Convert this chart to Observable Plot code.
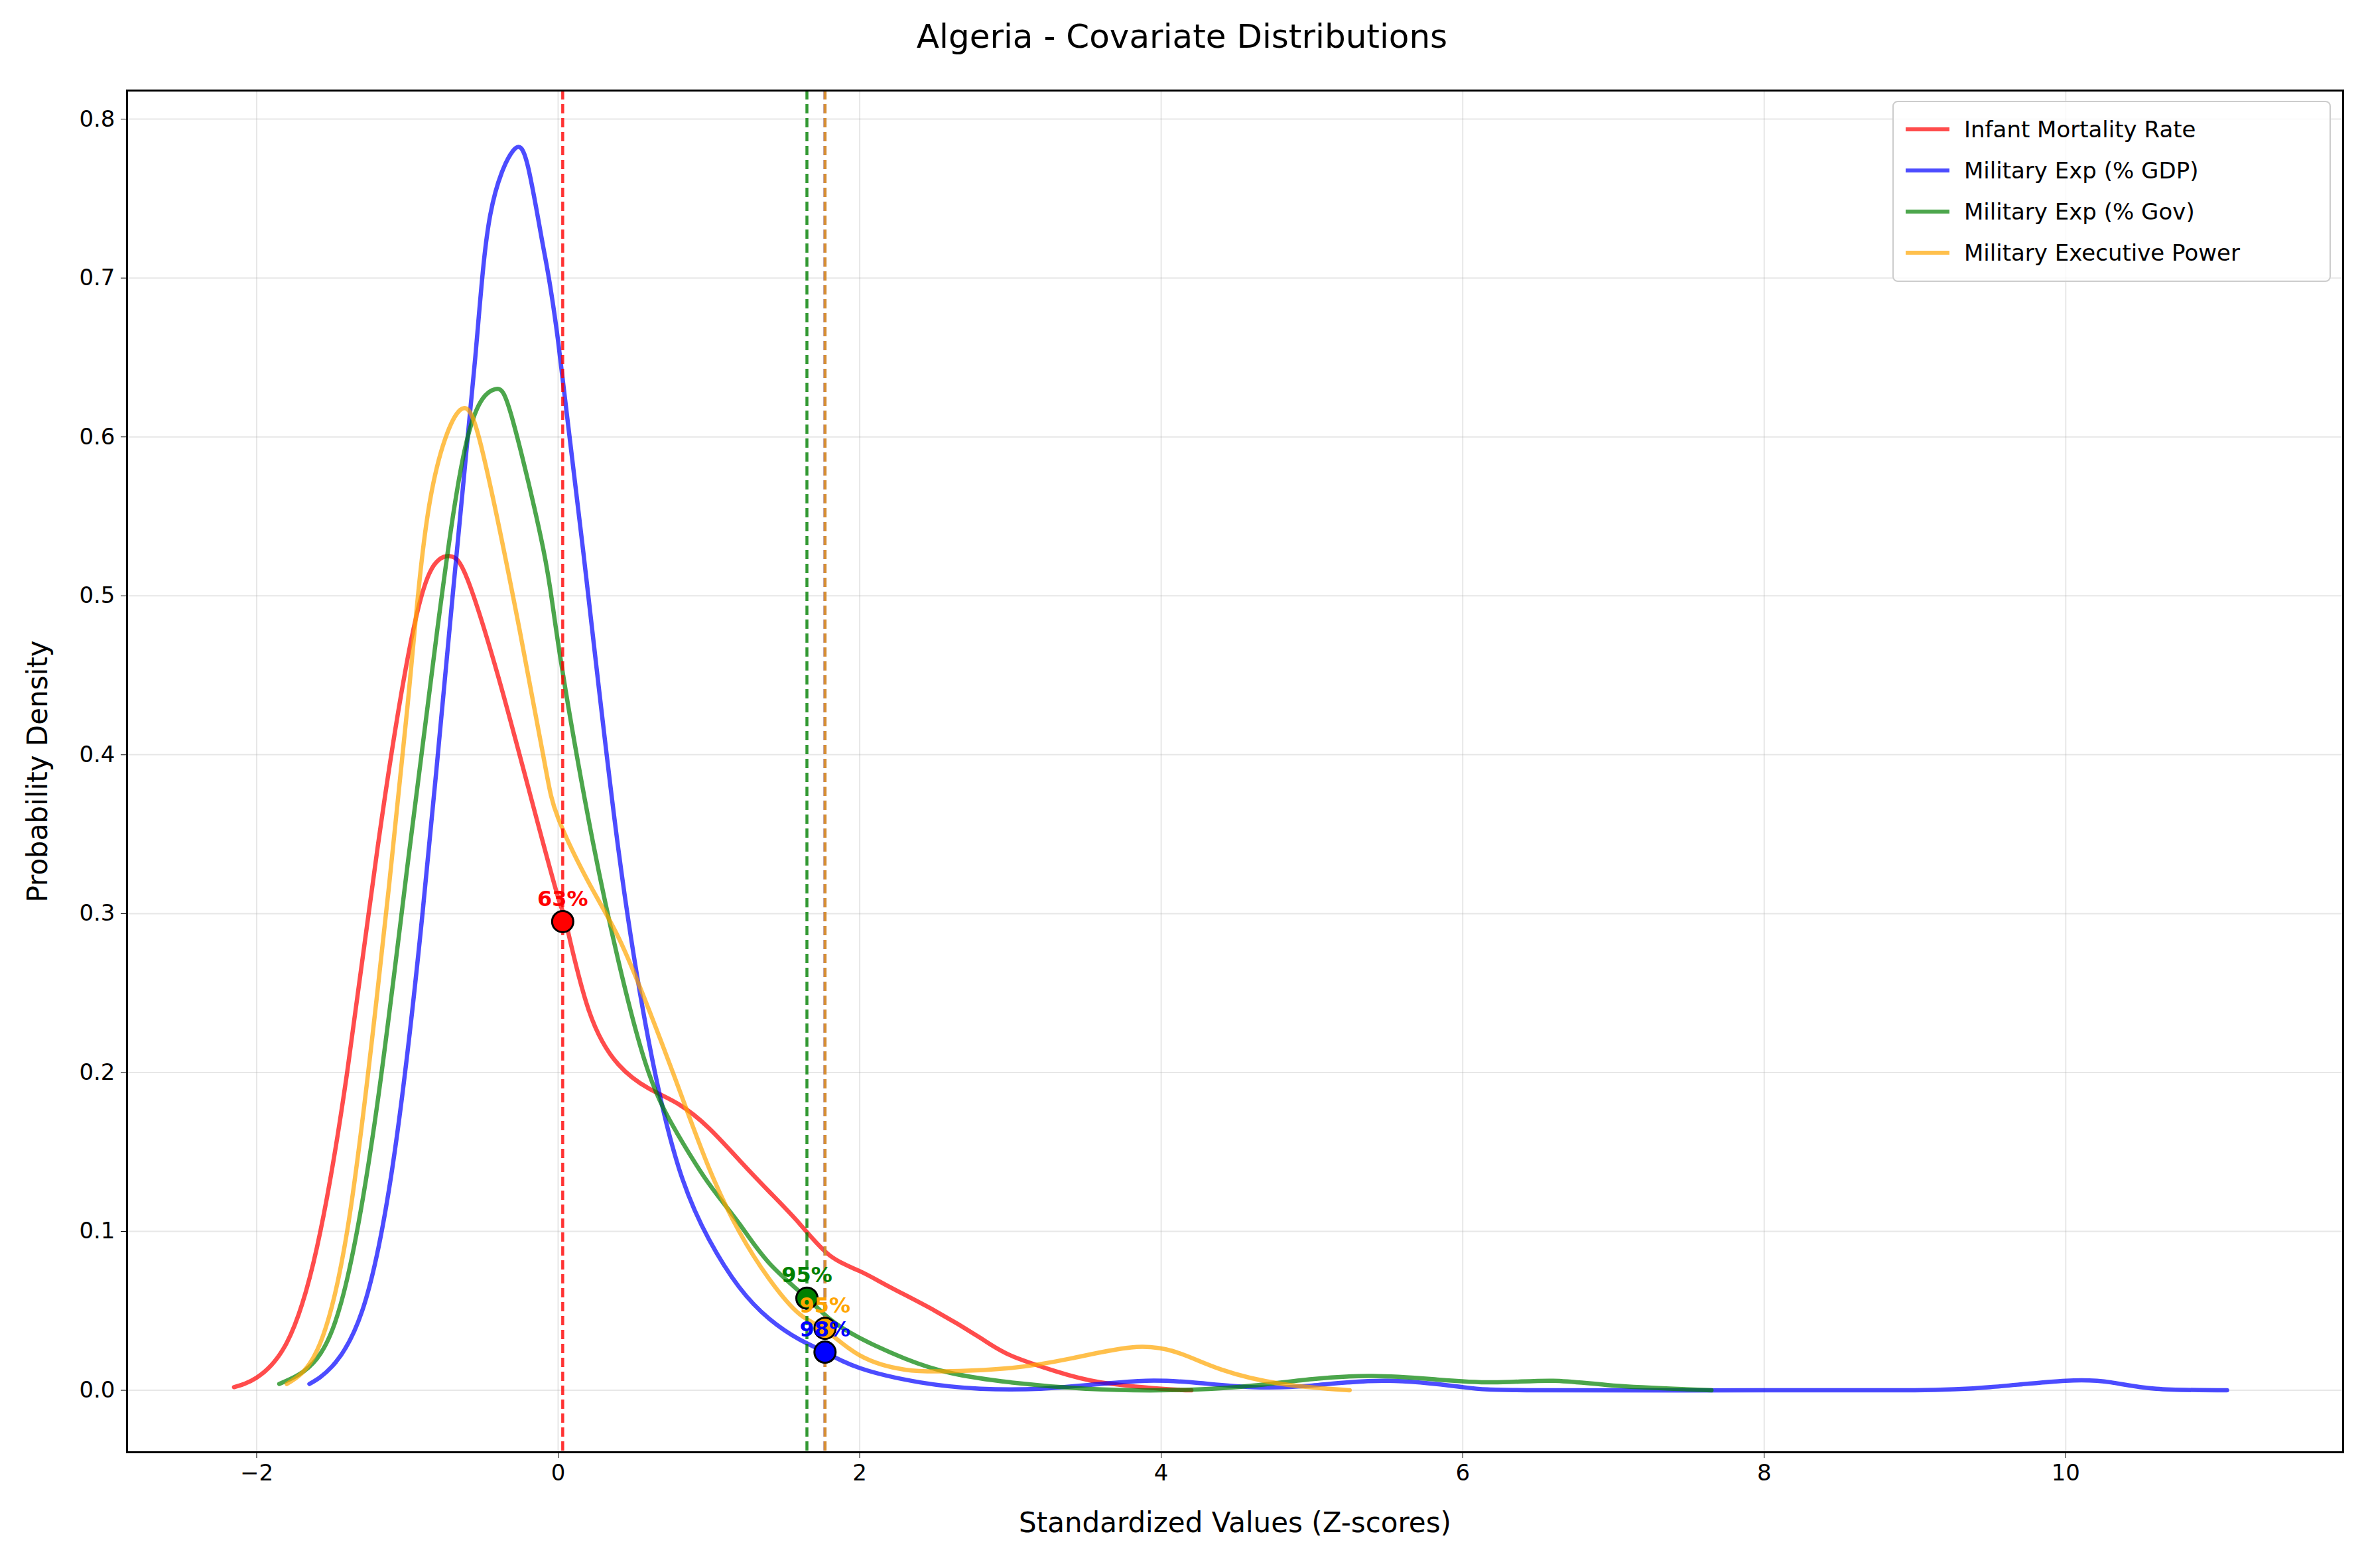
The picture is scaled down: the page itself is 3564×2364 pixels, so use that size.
<!DOCTYPE html>
<html><head><meta charset="utf-8">
<script src="https://cdn.jsdelivr.net/npm/d3@7"></script>
<script src="https://cdn.jsdelivr.net/npm/@observablehq/plot@0.6"></script>
<style>
body{margin:0;background:#fff;font-family:"DejaVu Sans",sans-serif;}
#wrap{position:relative;width:3564px;height:2364px;}
#title{position:absolute;top:26px;left:0;width:3564px;text-align:center;font-size:50px;color:#000;}
#legend{position:absolute;left:2853px;top:152px;width:661px;height:273px;box-sizing:border-box;border:2px solid #ccc;border-radius:8px;background:rgba(255,255,255,0.8);padding:10px 18px;font-size:34px;}
#legend div{display:flex;align-items:center;height:62px;}
#legend span.sw{display:inline-block;width:66px;height:6px;margin-right:22px;opacity:0.7;}
</style></head>
<body><div id="wrap"><div id="title">Algeria - Covariate Distributions</div><div id="legend"></div></div>
<script>
const names = ["Infant Mortality Rate","Military Exp (% GDP)","Military Exp (% Gov)","Military Executive Power"];
const colors = ["red","blue","green","orange"];

const infantX = [-2.15,-2,-1.8,-1.6,-1.4,-1.2,-1.0,-0.85,-0.72,-0.6,-0.4,-0.2,0,0.05,0.2,0.4,0.6,0.8,1.0,1.2,1.4,1.6,1.8,2.0,2.2,2.5,2.8,3.0,3.3,3.6,4.0,4.2];
const infantY = [0.002,0.008,0.03,0.09,0.2,0.34,0.46,0.515,0.525,0.51,0.45,0.38,0.31,0.295,0.24,0.205,0.19,0.18,0.165,0.145,0.125,0.105,0.085,0.075,0.065,0.05,0.033,0.022,0.012,0.005,0.001,0.0];
const gdpX = [-1.65,-1.5,-1.3,-1.1,-0.9,-0.7,-0.55,-0.45,-0.3,-0.2,-0.1,0,0.2,0.4,0.6,0.8,1.0,1.2,1.4,1.6,1.77,2.0,2.4,2.8,3.2,3.6,3.9,4.2,4.6,5.0,5.5,6.0,6.5,8,9,9.5,10.0,10.3,10.6,11.07];
const gdpY = [0.004,0.015,0.05,0.14,0.3,0.5,0.65,0.74,0.78,0.77,0.72,0.66,0.5,0.34,0.22,0.14,0.095,0.065,0.045,0.032,0.024,0.014,0.005,0.001,0.001,0.004,0.006,0.005,0.002,0.003,0.006,0.002,0.0,0,0,0.002,0.006,0.005,0.001,0];
const govX = [-1.85,-1.6,-1.4,-1.2,-1.0,-0.8,-0.6,-0.42,-0.3,-0.1,0,0.2,0.4,0.6,0.8,1.0,1.2,1.4,1.65,1.8,2.0,2.3,2.6,3.0,3.5,4.0,4.5,5.0,5.4,5.8,6.2,6.6,7.0,7.65];
const govY = [0.004,0.02,0.07,0.18,0.33,0.48,0.6,0.63,0.61,0.53,0.47,0.36,0.27,0.2,0.16,0.13,0.105,0.08,0.058,0.045,0.033,0.02,0.011,0.005,0.001,0.0,0.002,0.007,0.009,0.007,0.005,0.006,0.003,0.0];
const execX = [-1.8,-1.6,-1.4,-1.2,-1.0,-0.85,-0.65,-0.5,-0.3,-0.1,0,0.2,0.4,0.6,0.8,1.0,1.2,1.4,1.6,1.77,2.0,2.3,2.6,3.0,3.4,3.8,4.1,4.4,4.8,5.25];
const execY = [0.004,0.025,0.1,0.25,0.43,0.56,0.617,0.59,0.5,0.4,0.36,0.32,0.285,0.24,0.19,0.14,0.1,0.07,0.048,0.038,0.022,0.013,0.012,0.014,0.02,0.027,0.024,0.013,0.004,0.0];

const markX = [0.03,1.77,1.65,1.77];
const markY = [0.295,0.024,0.058,0.039];
const markLabel = ["63%","98%","95%","95%"];

const series = [[infantX,infantY],[gdpX,gdpY],[govX,govY],[execX,execY]];
const curves = series.flatMap(([xs,ys],i)=>xs.map((x,j)=>({x,y:ys[j],s:names[i]})));
const marks = markX.map((x,i)=>({x,y:markY[i],c:colors[i],label:markLabel[i]}));

const plot = Plot.plot({
  width:3564, height:2364,
  marginLeft:191, marginRight:32, marginTop:136, marginBottom:175,
  style:{fontFamily:"DejaVu Sans",fontSize:"34px",background:"white",overflow:"visible"},
  x:{domain:[-2.86,11.84],ticks:[-2,0,2,4,6,8,10],tickSize:9,tickPadding:9,label:"Standardized Values (Z-scores)",labelAnchor:"center",labelArrow:"none",labelOffset:120},
  y:{domain:[-0.039,0.818],ticks:d3.range(0,0.81,0.1),tickFormat:d3.format(".1f"),tickSize:9,tickPadding:9,label:"Probability Density",labelAnchor:"center",labelArrow:"none",labelOffset:150},
  color:{domain:names,range:colors},
  marks:[
    Plot.gridX([-2,0,2,4,6,8,10],{stroke:"#b0b0b0",strokeOpacity:0.3,strokeWidth:2}),
    Plot.gridY(d3.range(0,0.81,0.1),{stroke:"#b0b0b0",strokeOpacity:0.3,strokeWidth:2}),
    Plot.line(curves,{x:"x",y:"y",z:"s",stroke:"s",curve:"natural",strokeWidth:6.5,strokeOpacity:0.7}),
    Plot.ruleX(marks,{x:"x",stroke:"c",strokeWidth:4.5,strokeDasharray:"14,7",strokeOpacity:0.8}),
    Plot.dot(marks,{x:"x",y:"y",fill:"c",stroke:"black",strokeWidth:3,r:16}),
    Plot.text(marks,{x:"x",y:"y",text:"label",fill:"c",dy:-34,fontWeight:"bold",fontSize:32}),
    Plot.frame({stroke:"black",strokeWidth:3})
  ]
});
plot.querySelectorAll("[aria-label$='axis label'] text, g[aria-label$='axis label']").forEach(e=>e.setAttribute("font-size","42"));
document.getElementById("wrap").prepend(plot);
document.getElementById("legend").innerHTML = names.map((n,i)=>`<div><span class="sw" style="background:${colors[i]}"></span>${n}</div>`).join("");
</script></body></html>
